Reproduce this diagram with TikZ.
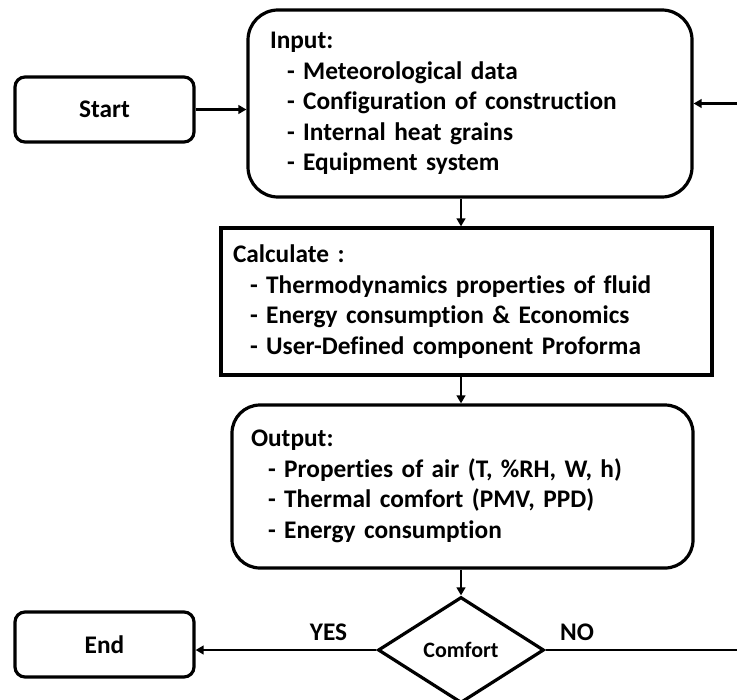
\documentclass[tikz,border=0pt]{standalone}
\usepackage{fontspec}
\setmainfont{Carlito}[Ligatures=NoCommon]
\usepackage{tikz}
\usetikzlibrary{arrows.meta,positioning,shapes.geometric}

\begin{document}
\begin{tikzpicture}[x=0.75pt,y=-0.75pt,
  txt/.style={font=\fontsize{19pt}{22.9pt}\selectfont\bfseries},
  termbox/.style={txt,draw,line width=2.4pt,rounded corners=7.5pt,minimum width=134.25pt,minimum height=48.75pt},
  listbox/.style={txt,draw,line width=2.4pt,align=left,inner ysep=0pt},
  decision/.style={draw,diamond,line width=2.4pt,inner sep=0pt,minimum width=124.5pt,minimum height=79.5pt,
    font=\fontsize{16.5pt}{19pt}\selectfont\bfseries},
  arr/.style={line width=2.2pt,-{Triangle[length=6pt,width=6.5pt]}}]
 \clip (0,0) rectangle (737,699);
 \node[termbox] (start) at (104.5,109.5) {Start};
 \node[listbox,rounded corners=22.5pt,minimum height=140.25pt,inner xsep=16.5pt,text width=300pt] (input) at (470,103.5)
   {Input:\\ \hspace*{12.75pt}- Meteorological data\\ \hspace*{12.75pt}- Configuration of construction\\
    \hspace*{12.75pt}- Internal heat grains\\ \hspace*{12.75pt}- Equipment system};
 \node[listbox,minimum height=110.25pt,inner xsep=9pt,text width=350.25pt] (calc) at (466.5,301.5)
   {Calculate :\\ \hspace*{12.75pt}- Thermodynamics properties of fluid\\ \hspace*{12.75pt}- Energy consumption \& Economics\\
    \hspace*{12.75pt}- User-Defined component Proforma};
 \node[listbox,rounded corners=21pt,minimum height=122.25pt,inner xsep=14.25pt,text width=317.25pt] (output) at (462.5,486.5)
   {Output:\\ \hspace*{12.75pt}- Properties of air (T, \%RH, W, h)\\ \hspace*{12.75pt}- Thermal comfort (PMV, PPD)\\
    \hspace*{12.75pt}- Energy consumption};
 \node[decision] (comfort) at (461,650) {Comfort};
 \node[termbox] (end) at (104.5,644.5) {End};
 \node[txt] (yes) at (328.5,632) {YES};
 \node[txt] (no) at (577,632) {NO};
 \coordinate (loop) at (770,650);
 % connectors
 \draw[arr] (start.east) -- (start.east -| input.west);
 \draw[arr] (input.south -| comfort.north) -- (calc.north -| comfort.north);
 \draw[arr] (calc.south -| comfort.north) -- (output.north -| comfort.north);
 \draw[arr] (output.south -| comfort.north) -- (comfort.north);
 \draw[arr] (comfort.west) -- (comfort.west -| end.east);
 \draw[arr] (comfort.east) -- (loop) |- (input.east);
\end{tikzpicture}
\end{document}
